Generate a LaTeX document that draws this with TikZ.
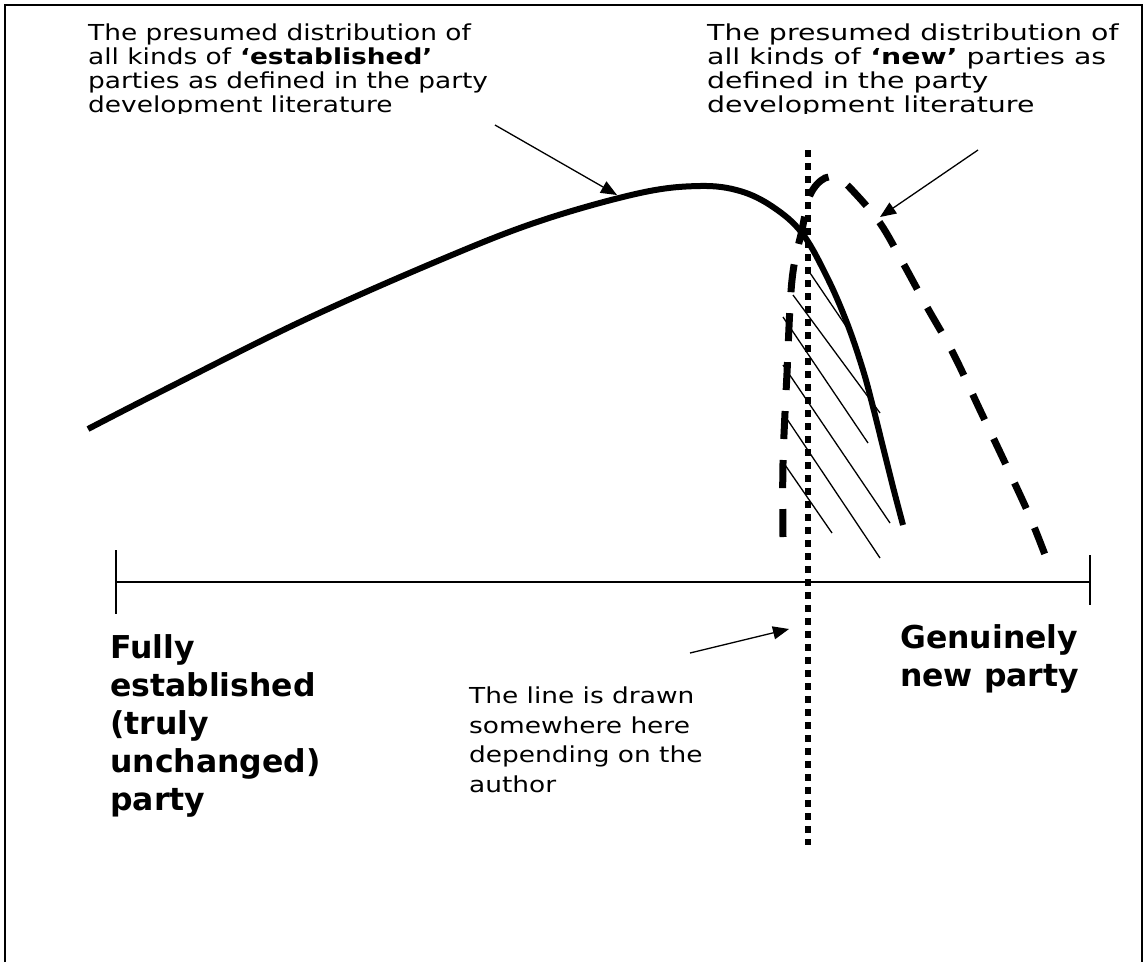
\documentclass[tikz,border=0pt]{standalone}
\usepackage{fontspec}
\setmainfont{DejaVu Sans}
\newfontfamily\notefont{DejaVu Sans}[FakeStretch=1.2]
\newfontfamily\widenotefont{DejaVu Sans}[FakeStretch=1.29]
\usepackage{tikz}
\usetikzlibrary{arrows.meta}

\begin{document}
\begin{tikzpicture}[x=1pt, y=-1pt,
  note/.style={align=left, inner sep=0pt, anchor=base west, font=\notefont\fontsize{22}{24}\selectfont},
  widenote/.style={note, font=\widenotefont\fontsize{22}{24}\selectfont},
  lownote/.style={note, font=\notefont\fontsize{22}{29.5}\selectfont},
  pole/.style={align=left, inner sep=0pt, anchor=base west, font=\bfseries\fontsize{31.5}{38}\selectfont},
  pointer/.style={-{Triangle[length=16pt, width=13pt]}, line width=1.3pt},
  scaleline/.style={line width=1.7pt},
  oldcurve/.style={line width=6pt},
  newcurve/.style={line width=7pt, dash pattern=on 28pt off 21pt},
  cutline/.style={line width=6.5pt, dash pattern=on 6.5pt off 6.5pt},
  hatch/.style={line width=1.3pt}
]
\useasboundingbox (0,0) rectangle (1146,962);
% open frame
\draw[line width=2pt] (5,962) -- (5,5) -- (1142,5) -- (1142,962);

% captions above the curves (anchored at the last baseline)
\begin{scope}
  \clip (0,0) rectangle (1146,113);
  \node[note] (oldtxt) at (88,112) {The presumed distribution of\\all kinds of \textbf{‘established’}\\parties as defined in the party\\development literature};
  \node[widenote] (newtxt) at (707,112) {The presumed distribution of\\all kinds of \textbf{‘new’} parties as\\defined in the party\\development literature};
\end{scope}

% the scale from established to new
\coordinate (left) at (116,582);
\coordinate (right) at (1090,582);
\draw[scaleline] (left) -- (right);
\draw[scaleline] (116,550) -- (116,614);
\draw[scaleline] (1090,555) -- (1090,605);

\node[pole] (fully) at (110,810) {Fully\\established\\(truly\\unchanged)\\party};
\node[pole] (genuine) at (900,686) {Genuinely\\new party};
\node[lownote] (linetxt) at (469,792) {The line is drawn\\somewhere here\\depending on the\\author};

% distributions
\draw[oldcurve] plot[smooth, tension=0.6] coordinates {(88,429) (160,392) (300,322) (440,260) (540,221) (640,193) (700,186) (740,191) (773,207) (802,233) (827,277) (847,323) (863,370) (873,407) (883,447) (893,487) (903,525)};
\draw[newcurve] plot[smooth, tension=0.6] coordinates {(783,537) (783,463) (787,373) (792,280) (802,230) (810,195) (825,178) (840,180) (853,191) (880,223) (903,263) (927,307) (953,353) (980,410) (1007,467) (1030,517) (1047,560)};

% overlap
\foreach \xa/\ya/\xb/\yb in {808/270/850/332, 793/295/880/413, 783/317/868/443, 783/365/890/523, 783/413/880/558, 783/462/832/533}
  \draw[hatch] (\xa,\ya) -- (\xb,\yb);

% cut-off line
\draw[cutline] (808,150) -- (808,845);

% pointers
\coordinate (oldfrom) at (495,125);
\coordinate (oldto) at (617,195);
\coordinate (newfrom) at (978,150);
\coordinate (newto) at (880,217);
\coordinate (linefrom) at (690,653);
\coordinate (lineto) at (789,629);
\draw[pointer] (oldfrom) -- (oldto);
\draw[pointer] (newfrom) -- (newto);
\draw[pointer] (linefrom) -- (lineto);
\end{tikzpicture}
\end{document}
